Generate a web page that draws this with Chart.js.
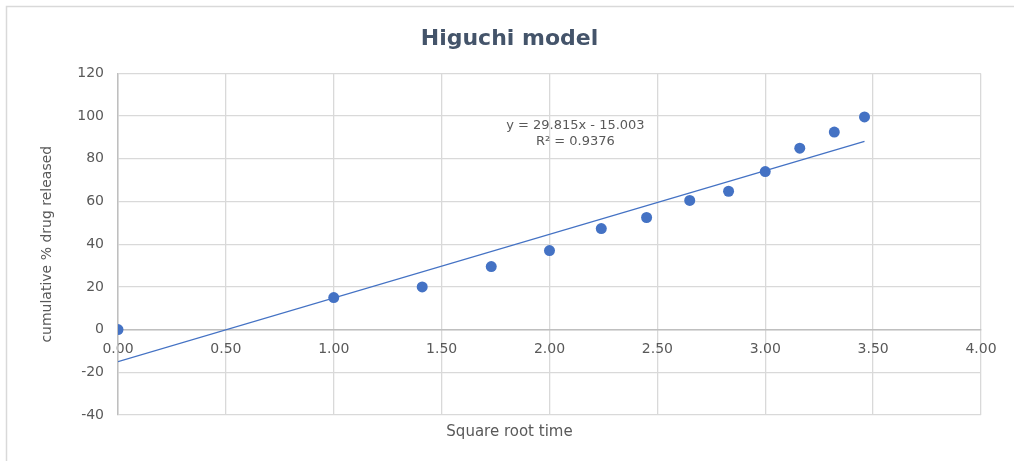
<!DOCTYPE html>
<html>
<head>
<meta charset="utf-8">
<title>Higuchi model</title>
<script src="https://cdn.jsdelivr.net/npm/chart.js@4/dist/chart.umd.min.js"></script>
<style>
  body { margin: 0; background: #fff; }
  canvas { display: block; }
</style>
</head>
<body>
<canvas id="myChart" width="1014" height="461"></canvas>
<script>
// data
var sqrtTime = [0, 1.00, 1.41, 1.73, 2.00, 2.24, 2.45, 2.65, 2.83, 3.00, 3.16, 3.32, 3.46];
var released = [0, 15, 20, 29.5, 37, 47.3, 52.5, 60.5, 64.8, 74, 85, 92.5, 99.6];
var xTicks = [0, 0.5, 1, 1.5, 2, 2.5, 3, 3.5, 4];
var yTicks = [-40, -20, 0, 20, 40, 60, 80, 100, 120];
var slope = 29.815;
var intercept = -15.003;
var eqText = ['y = 29.815x - 15.003', 'R\u00b2 = 0.9376'];

var blue = '#4472c4';
var textGrey = '#595959';
var fontFam = '"DejaVu Sans", sans-serif';

var points = sqrtTime.map(function(x, i) { return { x: x, y: released[i] }; });
var lastX = sqrtTime[sqrtTime.length - 1];
var trend = [
  { x: 0, y: intercept },
  { x: lastX, y: slope * lastX + intercept }
];

// frame lines + trendline label
var extras = {
  id: 'extras',
  beforeDraw: function(chart) {
    var c = chart.ctx;
    c.save();
    c.fillStyle = '#fff';
    c.fillRect(0, 0, chart.width, chart.height);
    c.strokeStyle = '#d9d9d9';
    c.lineWidth = 1.5;
    c.beginPath();
    c.moveTo(6.5, chart.height);
    c.lineTo(6.5, 6.5);
    c.lineTo(chart.width, 6.5);
    c.stroke();
    c.restore();
  },
  afterDraw: function(chart) {
    var c = chart.ctx;
    var xs = chart.scales.x, ys = chart.scales.y;
    var px = xs.getPixelForValue(2.12);
    var py = ys.getPixelForValue(95.5);
    c.save();
    c.fillStyle = textGrey;
    c.font = '13px ' + fontFam;
    c.textAlign = 'center';
    c.textBaseline = 'middle';
    c.fillText(eqText[0], px, py);
    c.fillText(eqText[1], px, py + 16);
    c.restore();
  }
};

var ctx = document.getElementById('myChart').getContext('2d');
var chart = new Chart(ctx, {
  type: 'scatter',
  data: {
    datasets: [{
      label: 'released',
      data: points,
      backgroundColor: blue,
      borderWidth: 0,
      pointRadius: 5.5,
      pointHoverRadius: 5.5,
      order: 2
    }, {
      type: 'line',
      label: 'trend',
      data: trend,
      borderColor: blue,
      borderWidth: 1.3,
      pointRadius: 0,
      fill: false,
      order: 1
    }]
  },
  options: {
    responsive: false,
    animation: false,
    events: [],
    layout: { padding: { left: 38, right: 33, top: 0, bottom: 0 } },
    plugins: {
      legend: { display: false },
      tooltip: { enabled: false },
      title: {
        display: true,
        text: 'Higuchi model',
        color: '#44546a',
        font: { family: fontFam, size: 22, weight: 'bold' },
        padding: { top: 26, bottom: 21 }
      },
      subtitle: {
        display: true,
        position: 'bottom',
        text: 'Square root time',
        color: textGrey,
        font: { family: fontFam, size: 15 },
        padding: { top: 8, bottom: 20 }
      }
    },
    scales: {
      x: {
        type: 'linear',
        position: { y: 0 },
        min: 0,
        max: 4,
        afterBuildTicks: function(scale) {
          scale.ticks = xTicks.map(function(v) { return { value: v }; });
        },
        ticks: {
          color: textGrey,
          font: { family: fontFam, size: 14 },
          padding: 11,
          maxRotation: 0,
          callback: function(v) { return v.toFixed(2); }
        },
        grid: { color: '#d9d9d9', lineWidth: 1.3, drawTicks: false },
        border: { color: '#bfbfbf', width: 1.5 }
      },
      y: {
        min: -40,
        max: 120,
        afterBuildTicks: function(scale) {
          scale.ticks = yTicks.map(function(v) { return { value: v }; });
        },
        afterFit: function(scale) { scale.width = 80; },
        ticks: {
          color: textGrey,
          font: { family: fontFam, size: 14 },
          padding: 14
        },
        grid: { color: '#d9d9d9', lineWidth: 1.3, drawTicks: false },
        border: { color: '#bfbfbf', width: 1.5 },
        title: {
          display: true,
          text: 'cumulative % drug released',
          color: textGrey,
          font: { family: fontFam, size: 14 },
          padding: { top: 1, bottom: 1 }
        }
      }
    }
  },
  plugins: [extras]
});
</script>
</body>
</html>
